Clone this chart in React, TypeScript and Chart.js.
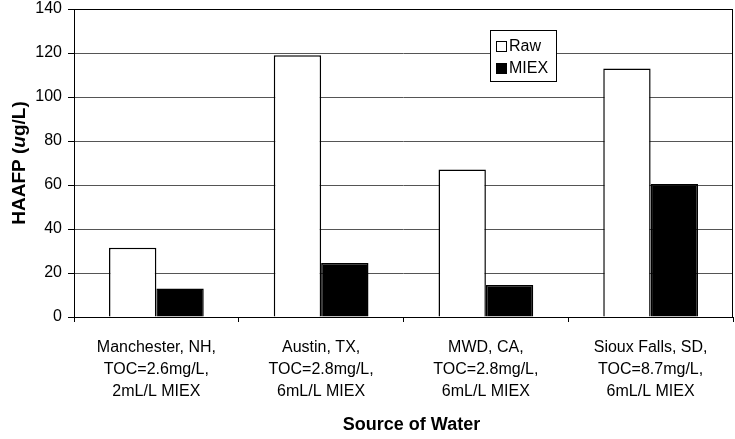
import React, { useEffect, useRef } from 'react';
import { Chart, registerables } from 'chart.js';

Chart.register(...registerables);

const categories: string[][] = [
  ['Manchester, NH,', 'TOC=2.6mg/L,', '2mL/L MIEX'],
  ['Austin, TX,', 'TOC=2.8mg/L,', '6mL/L MIEX'],
  ['MWD, CA,', 'TOC=2.8mg/L,', '6mL/L MIEX'],
  ['Sioux Falls, SD,', 'TOC=8.7mg/L,', '6mL/L MIEX'],
];
const rawValues = [31.5, 119, 67, 113];
const miexValues = [13, 24.5, 14.5, 60.5];
const seriesNames = ['Raw', 'MIEX'];
const seriesFill = ['#ffffff', '#000000'];
const yMin = 0;
const yMax = 140;
const yStep = 20;
const xTitle = 'Source of Water';
// y title pieces: [text, italic]
const yTitleParts: [string, boolean][] = [
  ['HAAFP (', false],
  ['u', true],
  ['g/L)', false],
];

const FONT = '"Liberation Sans", Arial, Helvetica, sans-serif';

const decorPlugin = {
  id: 'decor',
  afterDraw(chart: any) {
    const { ctx, chartArea: a } = chart;
    ctx.save();
    // plot border
    ctx.strokeStyle = '#000';
    ctx.lineWidth = 1;
    ctx.strokeRect(Math.round(a.left) + 0.5, Math.round(a.top) + 0.5,
      Math.round(a.right - a.left) - 1, Math.round(a.bottom - a.top));

    // x title
    ctx.fillStyle = '#000';
    ctx.font = `bold 18px ${FONT}`;
    ctx.textAlign = 'center';
    ctx.textBaseline = 'middle';
    ctx.fillText(xTitle, (a.left + a.right) / 2 + 8, 425);

    // y title, mixed style, rotated
    ctx.save();
    ctx.translate(20, 163);
    ctx.rotate(-Math.PI / 2);
    ctx.textAlign = 'left';
    ctx.textBaseline = 'middle';
    const fonts = yTitleParts.map(([, it]) => `${it ? 'italic ' : ''}bold 19px ${FONT}`);
    let total = 0;
    const widths = yTitleParts.map(([t], i) => {
      ctx.font = fonts[i];
      const w = ctx.measureText(t).width;
      total += w;
      return w;
    });
    let x = -total / 2;
    yTitleParts.forEach(([t], i) => {
      ctx.font = fonts[i];
      ctx.fillText(t, x, 0);
      x += widths[i];
    });
    ctx.restore();

    // legend
    const lx = 490, ly = 30, lw = 67, lh = 52;
    ctx.fillStyle = '#fff';
    ctx.fillRect(lx, ly, lw, lh);
    ctx.strokeStyle = '#000';
    ctx.lineWidth = 1;
    ctx.strokeRect(lx + 0.5, ly + 0.5, lw - 1, lh - 1);
    ctx.font = `16px ${FONT}`;
    ctx.textAlign = 'left';
    ctx.textBaseline = 'middle';
    const rowY = [46, 67.5];
    seriesNames.forEach((name, i) => {
      const cy = rowY[i];
      ctx.fillStyle = seriesFill[i];
      ctx.fillRect(496, Math.round(cy - 5), 11, 11);
      ctx.strokeStyle = '#000';
      ctx.strokeRect(496.5, Math.round(cy - 5) + 0.5, 10, 10);
      ctx.fillStyle = '#000';
      ctx.fillText(name, 509, cy + 1);
    });
    ctx.restore();
  },
};

export default function App() {
  const ref = useRef<HTMLCanvasElement | null>(null);
  useEffect(() => {
    if (!ref.current) return;
    const chart = new Chart(ref.current, {
      type: 'bar',
      data: {
        labels: categories,
        datasets: [
          {
            label: seriesNames[0],
            data: rawValues,
            backgroundColor: seriesFill[0],
            borderColor: '#000',
            borderWidth: 1.5,
            categoryPercentage: 0.575,
            barPercentage: 1,
          },
          {
            label: seriesNames[1],
            data: miexValues,
            backgroundColor: seriesFill[1],
            borderColor: '#000',
            borderWidth: 1.5,
            categoryPercentage: 0.575,
            barPercentage: 1,
          },
        ],
      },
      options: {
        responsive: false,
        animation: false,
        devicePixelRatio: 1,
        layout: { padding: { top: 9, right: 2, left: 0, bottom: 0 } },
        plugins: {
          legend: { display: false },
          tooltip: { enabled: false },
          title: { display: false },
        },
        scales: {
          x: {
            grid: {
              offset: true,
              drawOnChartArea: false,
              drawTicks: true,
              tickLength: 5,
              tickColor: '#000',
              color: '#000',
            },
            border: { display: false },
            ticks: {
              color: '#000',
              font: { family: FONT, size: 16, lineHeight: 1.36 },
              padding: 15,
              maxRotation: 0,
              autoSkip: false,
            },
            afterFit: (s: any) => {
              s.height = 122;
              s.paddingLeft = 0;
              s.paddingRight = 0;
            },
          },
          y: {
            min: yMin,
            max: yMax,
            grid: {
              color: '#555555',
              tickColor: '#000',
              tickLength: 6,
              lineWidth: 1,
            },
            border: { display: false },
            ticks: {
              stepSize: yStep,
              color: '#000',
              font: { family: FONT, size: 16 },
              padding: 6,
            },
            afterFit: (s: any) => {
              s.width = 74;
              s.paddingTop = 0;
              s.paddingBottom = 0;
            },
          },
        },
      },
      plugins: [decorPlugin],
    } as any);
    return () => chart.destroy();
  }, []);
  return (
    <div style={{ position: 'absolute', left: 0, top: 0, width: 735, height: 439, background: '#fff' }}>
      <canvas ref={ref} width={735} height={439} />
    </div>
  );
}
